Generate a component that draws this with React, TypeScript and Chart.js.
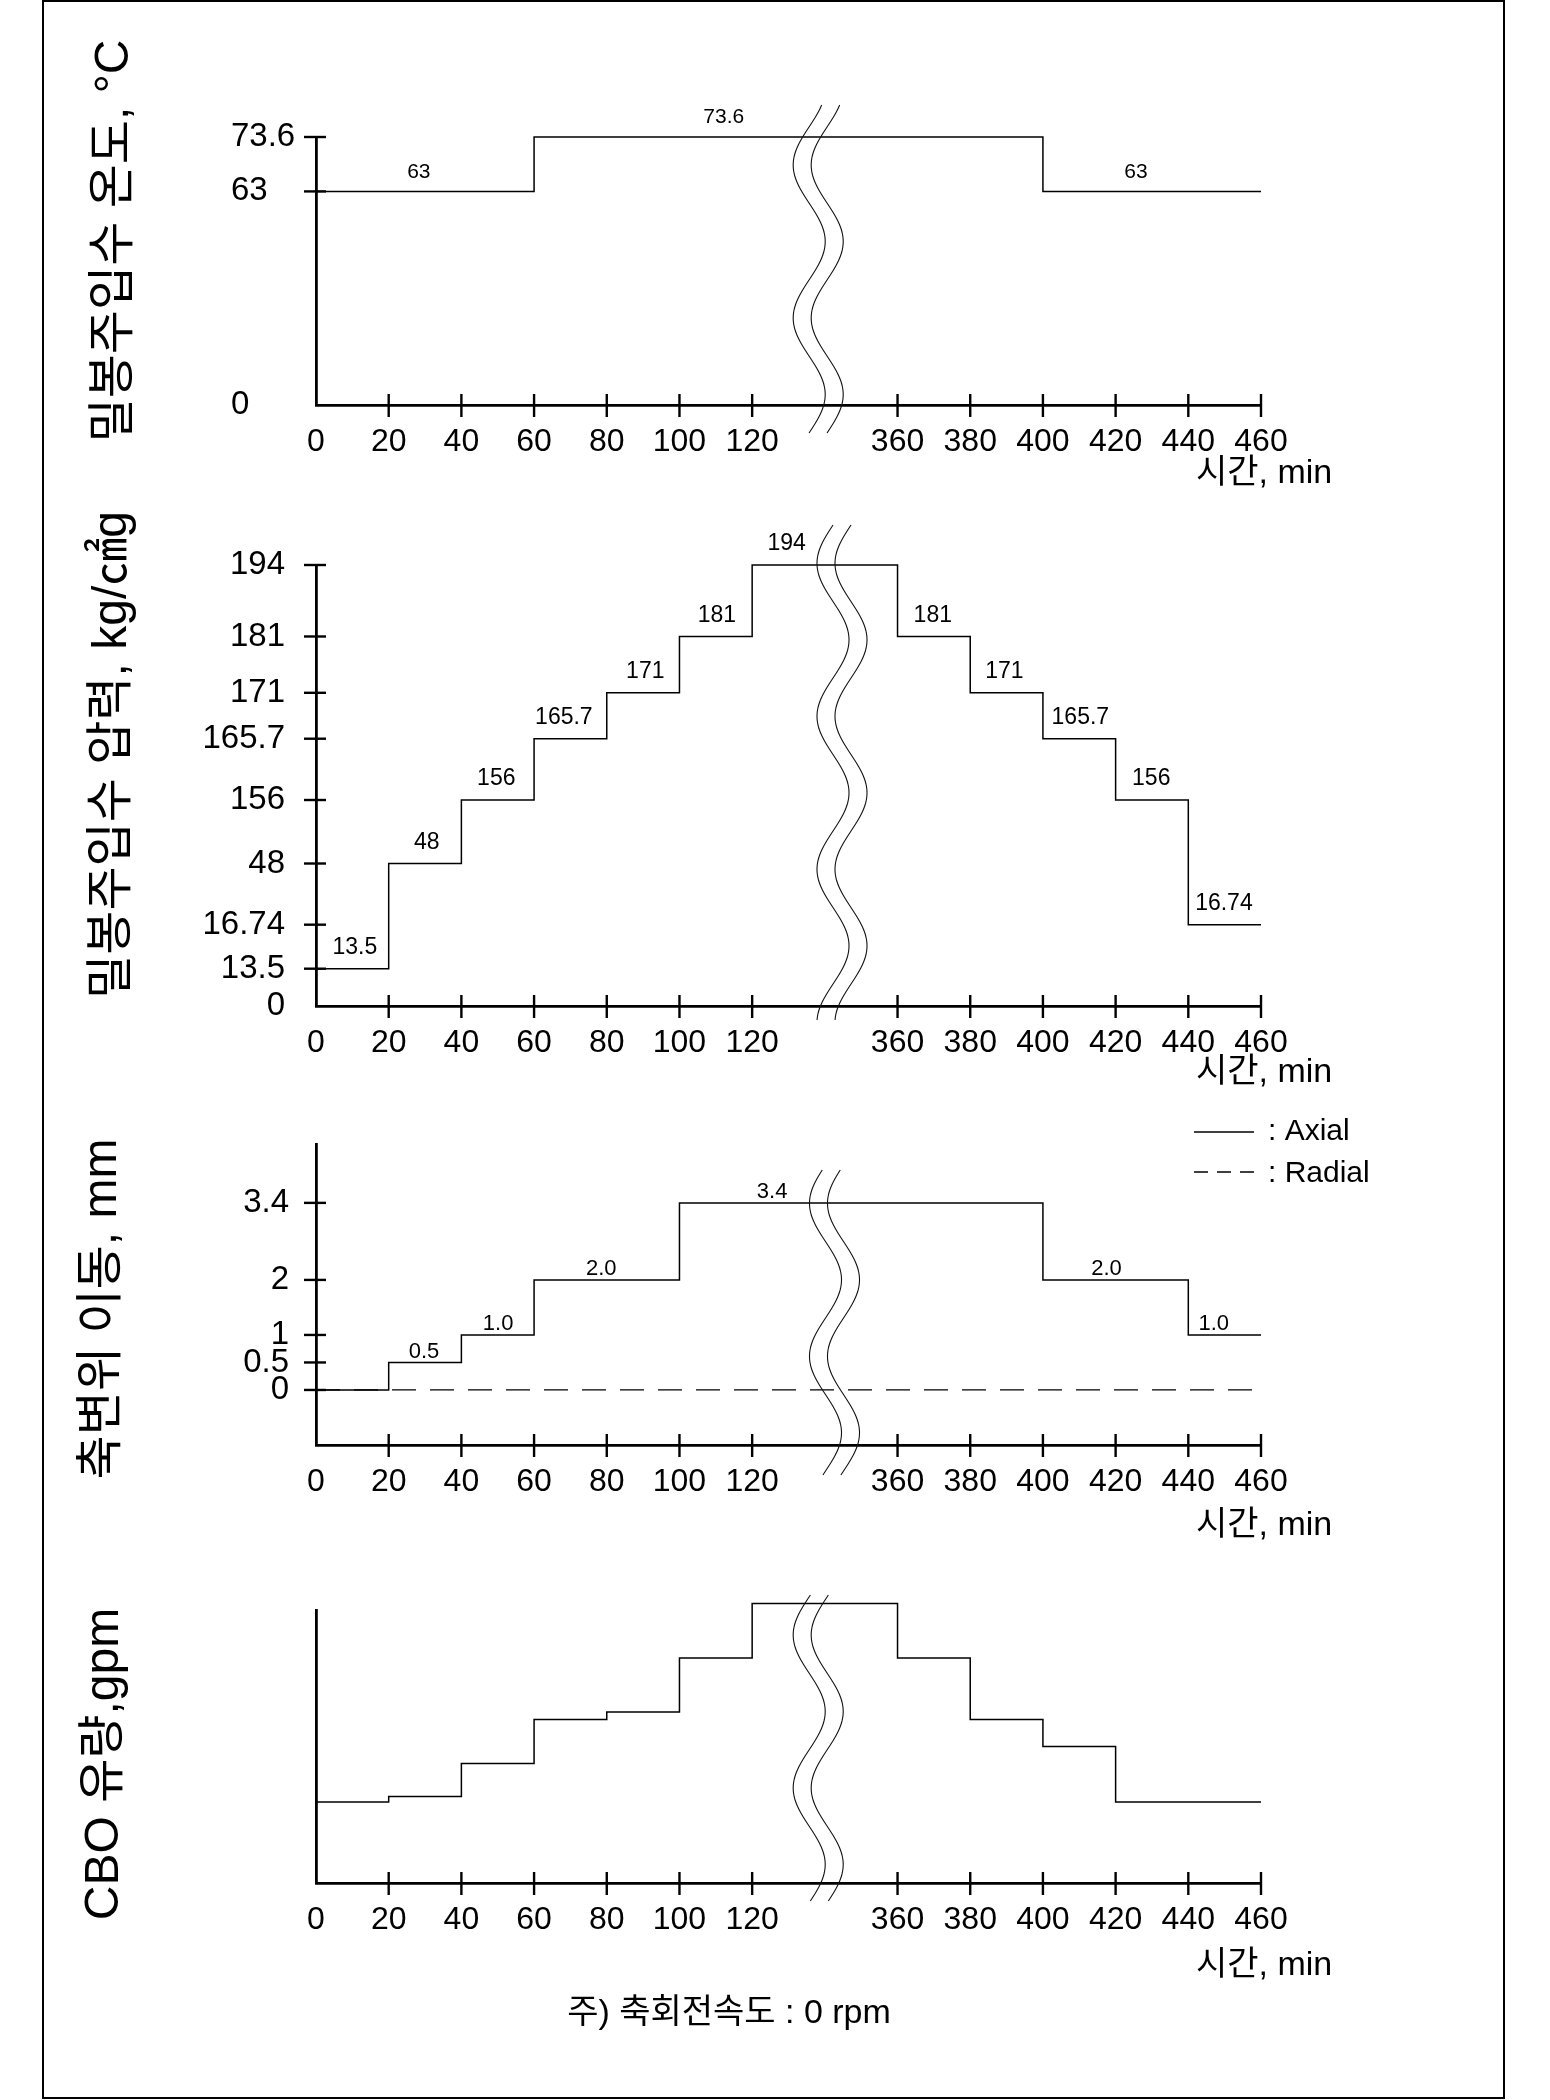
import React, { useEffect, useRef } from 'react';
import { Chart, registerables, LinearScale } from 'chart.js';

// ---------- custom piecewise-linear scale (broken / schematic axes) ----------
class PiecewiseScale extends LinearScale {
  static id = 'piecewise';
  static defaults = { ...(LinearScale as any).defaults };

  buildTicks() {
    const vals = (((this as any).options.tickValues) || []) as number[];
    return vals.map((v) => ({ value: v }));
  }

  decimalFor(value: number): number {
    const sv = (this as any).options.stopValues as number[];
    const sf = (this as any).options.stopFracs as number[];
    const n = sv.length;
    let i = 0;
    while (i < n - 2 && value > sv[i + 1]) i++;
    const t = (value - sv[i]) / (sv[i + 1] - sv[i]);
    return sf[i] + t * (sf[i + 1] - sf[i]);
  }

  getPixelForValue(value: number) {
    if (value === null || value === undefined || isNaN(value)) return NaN;
    return (this as any).getPixelForDecimal(this.decimalFor(value));
  }

  getValueForPixel(pixel: number) {
    const sv = (this as any).options.stopValues as number[];
    const sf = (this as any).options.stopFracs as number[];
    const dec = (this as any).getDecimalForPixel(pixel);
    const n = sf.length;
    let i = 0;
    while (i < n - 2 && dec > sf[i + 1]) i++;
    const t = (dec - sf[i]) / (sf[i + 1] - sf[i]);
    return sv[i] + t * (sv[i + 1] - sv[i]);
  }
}

Chart.register(...registerables, PiecewiseScale as any);

// ---------- data ----------
const xTickValues = [0, 20, 40, 60, 80, 100, 120, 360, 380, 400, 420, 440, 460];
const xTickLabels = ['0', '20', '40', '60', '80', '100', '120', '360', '380', '400', '420', '440', '460'];
const xTitle = '시간, min';

// 밀봉주입수 온도
const tempTimes = [0, 60, 400, 460];
const tempValues = [63, 73.6, 63, 63];
const tempTickValues = [0, 63, 73.6];
const tempTickLabels = ['0', '63', '73.6'];
const tempLabelTexts = ['63', '73.6', '63'];
const tempLabelTimes = [28.3, 112.2, 425.6];
const tempLabelValues = [63, 73.6, 63];

// 밀봉주입수 압력
const pressTimes = [0, 20, 40, 60, 80, 100, 120, 360, 380, 400, 420, 440, 460];
const pressValues = [13.5, 48, 156, 165.7, 171, 181, 194, 181, 171, 165.7, 156, 16.74, 16.74];
const pressTickValues = [0, 13.5, 16.74, 48, 156, 165.7, 171, 181, 194];
const pressTickLabels = ['0', '13.5', '16.74', '48', '156', '165.7', '171', '181', '194'];
const pressLabelTexts = ['13.5', '48', '156', '165.7', '171', '181', '194', '181', '171', '165.7', '156', '16.74'];
const pressLabelTimes = [10.7, 30.5, 49.6, 68.2, 90.6, 110.3, 177, 369.7, 389.4, 410.3, 429.8, 449.8];
const pressLabelValues = [13.5, 48, 156, 165.7, 171, 181, 194, 181, 171, 165.7, 156, 16.74];

// 축변위 이동
const axialTimes = [0, 20, 40, 60, 100, 400, 440, 460];
const axialValues = [0, 0.5, 1, 2, 3.4, 2, 1, 1];
const radialTimes = [0, 460];
const radialValues = [0, 0];
const dispTickValues = [0, 0.5, 1, 2, 3.4];
const dispTickLabels = ['0', '0.5', '1', '2', '3.4'];
const dispLabelTexts = ['0.5', '1.0', '2.0', '3.4', '2.0', '1.0'];
const dispLabelTimes = [29.7, 50.1, 78.5, 153, 417.5, 447];
const dispLabelValues = [0.5, 1, 2, 3.4, 2, 1];
const legendTexts = ['Axial', 'Radial'];

// CBO 유량 (relative, no numeric ticks in the original)
const cboTimes = [0, 20, 40, 60, 80, 100, 120, 360, 380, 400, 420, 460];
const cboValues = [29.7, 31.7, 43.8, 59.9, 62.6, 82.4, 102.4, 82.4, 59.9, 50, 29.7, 29.7];

const footnote = '주) 축회전속도 : 0 rpm';

// ---------- layout ----------
const PAGE_W = 1550;
const PAGE_H = 2100;
const AXIS_LEFT = 316;
const AXIS_RIGHT = 1261;
const X_BOX = 70; // height reserved for x tick labels
const FONT = '"Liberation Sans", Arial, "Noto Sans CJK KR", sans-serif';

const xStopValues = [0, 120, 360, 460];
const xStopFracs = [0, 120 / 260, 160 / 260, 1];

type Series = { times: number[]; values: number[]; dash?: number[]; width: number };
type Spec = {
  key: string;
  areaTop: number;
  areaBottom: number;
  yStopValues: number[];
  yStopFracs: number[];
  yTickValues: number[];
  yTickLabels: string[];
  yAlign: 'near' | 'far';
  yPad: number;
  yBox: number;
  series: Series[];
  labels?: { texts: string[]; times: number[]; values: number[]; size: number; lift: number };
  title: string;
  titleX: number;
  titleY: number;
  xTitleDy: number;
  wave: { center: number; yMin: number; top: number; bottom: number };
  legend?: boolean;
  foot?: boolean;
};

const PANELS: Spec[] = [
  {
    key: 'temp', areaTop: 137, areaBottom: 405,
    yStopValues: [0, 63, 73.6], yStopFracs: [0, 0.797, 1],
    yTickValues: tempTickValues, yTickLabels: tempTickLabels, yAlign: 'far', yPad: 21, yBox: 85,
    series: [{ times: tempTimes, values: tempValues, width: 1.5 }],
    labels: { texts: tempLabelTexts, times: tempLabelTimes, values: tempLabelValues, size: 21, lift: 19.5 },
    title: '밀봉주입수 온도, °C', titleX: 115, titleY: 241, xTitleDy: 69,
    wave: { center: 809.2, yMin: 165, top: 105, bottom: 433 },
  },
  {
    key: 'press', areaTop: 565, areaBottom: 1006,
    yStopValues: [0, 13.5, 16.74, 48, 156, 165.7, 171, 181, 194],
    yStopFracs: [0, 0.0846, 0.1844, 0.3231, 0.4671, 0.6061, 0.7102, 0.8379, 1],
    yTickValues: pressTickValues, yTickLabels: pressTickLabels, yAlign: 'near', yPad: 31, yBox: 250,
    series: [{ times: pressTimes, values: pressValues, width: 1.5 }],
    labels: { texts: pressLabelTexts, times: pressLabelTimes, values: pressLabelValues, size: 23, lift: 21 },
    title: '밀봉주입수 압력, kg/㎠g', titleX: 113, titleY: 755, xTitleDy: 67,
    wave: { center: 833, yMin: 563.3, top: 525, bottom: 1020 },
  },
  {
    key: 'disp', areaTop: 1144, areaBottom: 1445,
    yStopValues: [-1, 4.47], yStopFracs: [0, 1],
    yTickValues: dispTickValues, yTickLabels: dispTickLabels, yAlign: 'near', yPad: 27, yBox: 250,
    series: [
      { times: axialTimes, values: axialValues, width: 1.5 },
      { times: radialTimes, values: radialValues, width: 1.3, dash: [24, 14] },
    ],
    labels: { texts: dispLabelTexts, times: dispLabelTimes, values: dispLabelValues, size: 22, lift: 11 },
    title: '축변위 이동, mm', titleX: 103, titleY: 1309, xTitleDy: 81,
    wave: { center: 825.5, yMin: 1203.3, top: 1170, bottom: 1475 },
    legend: true,
  },
  {
    key: 'cbo', areaTop: 1610, areaBottom: 1883,
    yStopValues: [0, 100], yStopFracs: [0, 1],
    yTickValues: [], yTickLabels: [], yAlign: 'near', yPad: 27, yBox: 250,
    series: [{ times: cboTimes, values: cboValues, width: 1.5 }],
    title: 'CBO 유량,gpm', titleX: 105, titleY: 1764, xTitleDy: 83,
    wave: { center: 809.2, yMin: 1635, top: 1595, bottom: 1901 },
    foot: true,
  },
];

// ---------- decoration plugin ----------
function decor(spec: Spec) {
  return {
    id: 'decor_' + spec.key,
    afterDatasetsDraw(chart: any) {
      const ctx: CanvasRenderingContext2D = chart.ctx;
      const xs = chart.scales.x;
      const ys = chart.scales.y;
      const area = chart.chartArea;
      const seg = (x1: number, y1: number, x2: number, y2: number) => {
        ctx.beginPath();
        ctx.moveTo(x1, y1);
        ctx.lineTo(x2, y2);
        ctx.stroke();
      };
      ctx.save();
      ctx.strokeStyle = '#000';
      ctx.fillStyle = '#000';

      // tick marks crossing the axes
      ctx.lineWidth = 2.4;
      xs.ticks.forEach((t: any) => {
        if (t.value === 0) return;
        const px = xs.getPixelForValue(t.value);
        seg(px, area.bottom - 11, px, area.bottom + 12);
      });
      ys.ticks.forEach((t: any) => {
        const py = ys.getPixelForValue(t.value);
        if (Math.abs(py - area.bottom) < 1) return;
        seg(area.left - 12, py, area.left + 10, py);
      });

      // value labels
      if (spec.labels) {
        const L = spec.labels;
        ctx.font = `${L.size}px ${FONT}`;
        ctx.textAlign = 'center';
        ctx.textBaseline = 'middle';
        L.texts.forEach((txt, i) => {
          const px = xs.getPixelForValue(L.times[i]);
          const py = ys.getPixelForValue(L.values[i]) - L.lift;
          ctx.fillText(txt, px, py);
        });
      }

      // axis break (wavy double line)
      ctx.lineWidth = 1.1;
      ctx.strokeStyle = '#111';
      const W = spec.wave;
      [0, 18].forEach((dx) => {
        ctx.beginPath();
        for (let y = W.top; y <= W.bottom; y += 1) {
          const x = W.center + dx - 16 * Math.cos((2 * Math.PI * (y - W.yMin)) / 153);
          if (y === W.top) ctx.moveTo(x, y);
          else ctx.lineTo(x, y);
        }
        ctx.stroke();
      });
      ctx.strokeStyle = '#000';

      // y axis title (rotated)
      ctx.save();
      ctx.translate(spec.titleX, spec.titleY);
      ctx.rotate(-Math.PI / 2);
      ctx.font = `48px ${FONT}`;
      ctx.textAlign = 'center';
      ctx.textBaseline = 'middle';
      ctx.fillText(spec.title, 0, 0);
      ctx.restore();

      // x axis title
      ctx.font = `34px ${FONT}`;
      ctx.textAlign = 'left';
      ctx.textBaseline = 'middle';
      ctx.fillText(xTitle, area.right - 65, area.bottom + spec.xTitleDy);

      // legend
      if (spec.legend) {
        ctx.lineWidth = 1.4;
        const ly = [1132, 1172];
        seg(1194, ly[0], 1254, ly[0]);
        ctx.setLineDash([14, 9]);
        seg(1194, ly[1], 1254, ly[1]);
        ctx.setLineDash([]);
        ctx.font = `30px ${FONT}`;
        ctx.textAlign = 'left';
        ctx.fillText(': ' + legendTexts[0], 1268, ly[0]);
        ctx.fillText(': ' + legendTexts[1], 1268, ly[1] + 2);
      }

      // footnote
      if (spec.foot) {
        ctx.font = `34px ${FONT}`;
        ctx.textAlign = 'center';
        ctx.textBaseline = 'middle';
        ctx.fillText(footnote, 729, 2014);
      }
      ctx.restore();
    },
  };
}

function buildConfig(spec: Spec): any {
  const datasets = spec.series.map((s) => ({
    data: s.times.map((t, i) => ({ x: t, y: s.values[i] })),
    borderColor: '#000',
    borderWidth: s.width,
    borderDash: s.dash || [],
    pointRadius: 0,
    stepped: true,
    fill: false,
    tension: 0,
    clip: false,
  }));
  return {
    type: 'line',
    data: { datasets },
    options: {
      responsive: true,
      maintainAspectRatio: false,
      animation: false,
      events: [],
      layout: {
        padding: {
          left: AXIS_LEFT - spec.yBox,
          right: PAGE_W - AXIS_RIGHT,
          top: spec.areaTop,
          bottom: PAGE_H - spec.areaBottom - X_BOX,
        },
      },
      plugins: { legend: { display: false }, tooltip: { enabled: false }, title: { display: false } },
      scales: {
        x: {
          type: 'piecewise',
          position: 'bottom',
          min: 0,
          max: 460,
          stopValues: xStopValues,
          stopFracs: xStopFracs,
          tickValues: xTickValues,
          afterFit: (s: any) => { s.height = X_BOX; },
          grid: { display: false, drawTicks: false },
          border: { display: true, width: 2.8, color: '#000' },
          ticks: {
            autoSkip: false, maxRotation: 0, minRotation: 0, padding: 18, color: '#000',
            font: { family: FONT, size: 32 },
            callback: (_v: any, i: number) => xTickLabels[i],
          },
        },
        y: {
          type: 'piecewise',
          position: 'left',
          min: spec.yStopValues[0],
          max: spec.yStopValues[spec.yStopValues.length - 1],
          stopValues: spec.yStopValues,
          stopFracs: spec.yStopFracs,
          tickValues: spec.yTickValues,
          afterFit: (s: any) => { s.width = spec.yBox; },
          grid: { display: false, drawTicks: false },
          border: { display: true, width: 2.8, color: '#000' },
          ticks: {
            display: spec.yTickValues.length > 0,
            autoSkip: false, padding: spec.yPad, crossAlign: spec.yAlign, color: '#000',
            font: { family: FONT, size: 33 },
            callback: (_v: any, i: number) => spec.yTickLabels[i],
          },
        },
      },
    },
    plugins: [decor(spec)],
  };
}

function PanelChart({ spec }: { spec: Spec }) {
  const ref = useRef<HTMLCanvasElement>(null);
  useEffect(() => {
    const chart = new Chart(ref.current as HTMLCanvasElement, buildConfig(spec));
    return () => chart.destroy();
  }, [spec]);
  return (
    <div style={{ position: 'absolute', left: 0, top: 0, width: PAGE_W, height: PAGE_H }}>
      <canvas ref={ref} />
    </div>
  );
}

export default function App() {
  return (
    <div style={{ position: 'absolute', left: 0, top: 0, width: PAGE_W, height: PAGE_H, background: '#fff', overflow: 'hidden' }}>
      <div
        style={{
          position: 'absolute', left: 42, top: 0, width: 1463, height: 2099,
          border: '2px solid #000', boxSizing: 'border-box',
        }}
      />
      {PANELS.map((p) => (
        <PanelChart key={p.key} spec={p} />
      ))}
    </div>
  );
}
